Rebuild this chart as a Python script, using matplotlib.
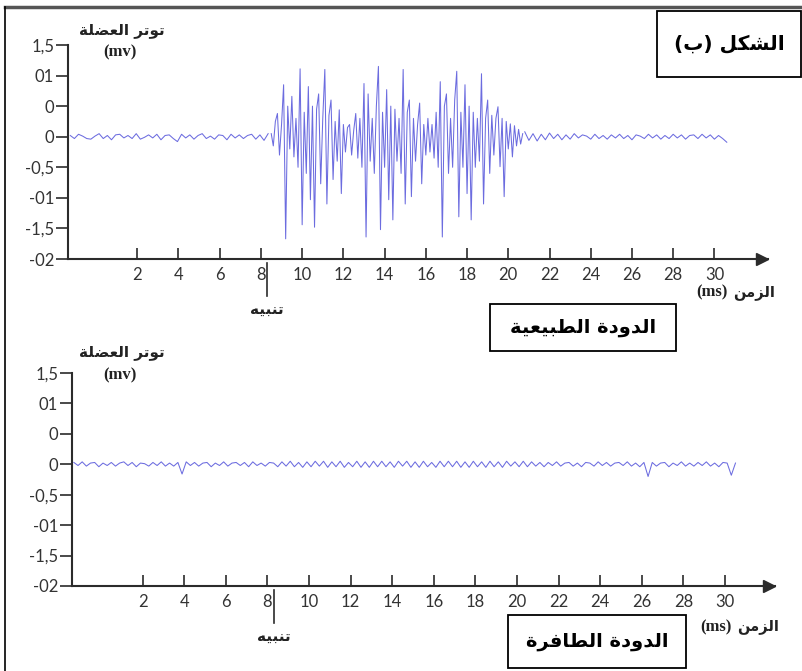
import matplotlib
matplotlib.use("Agg")
import matplotlib.pyplot as plt
import numpy as np
from matplotlib.patches import Rectangle
from matplotlib.lines import Line2D

# ---- data (mV against ms) ----
# normal worm: resting noise before the stimulus, burst, resting noise after
normal_pre_start, normal_pre_step = -1.25, 0.2
normal_pre = [0.02, -0.03, 0.04, 0.01, -0.03, -0.04, 0.01, 0.05, -0.03, 0.02,
              -0.05, 0.03, 0.04, -0.02, 0.02, -0.03, 0.05, -0.04, -0.01, 0.03,
              -0.02, 0.04, -0.05, 0.02, 0.03, -0.03, -0.08, 0.04, -0.02, 0.03,
              -0.04, 0.02, 0.05, -0.03, 0.01, -0.04, 0.03, 0.02, -0.05, 0.04,
              -0.02, 0.03, -0.03, 0.02, 0.04, -0.04, 0.03, -0.06, 0.05]

burst_start, burst_step = 8.5, 0.1
burst = [0.05, -0.15, 0.25, 0.38, -0.3, 0.2, 0.85, -1.67, 0.5, -0.2,
         0.66, -0.33, 0.3, -0.5, 1.11, -1.44, 0.4, -0.6, 0.82, -1.03,
         0.5, -1.48, 0.45, 0.7, -0.77, 0.3, 1.1, -1.1, 0.35, 0.6,
         -0.7, 0.25, -0.4, 0.44, -0.93, 0.2, -0.25, 0.15, 0.2, -0.3,
         0.1, 0.38, -0.35, 0.3, -0.5, 0.87, -1.64, 0.7, -0.4, 0.3,
         -0.6, 0.5, 1.15, -1.52, 0.4, -0.5, 0.77, -1.03, 0.5, -1.36,
         0.45, -0.4, 0.3, -0.6, 1.1, -1.1, 0.4, 0.6, -0.98, 0.3,
         -0.4, 0.2, 0.55, -0.77, 0.2, -0.3, 0.3, -0.25, 0.2, -0.35,
         0.4, -0.5, 0.9, -1.64, 0.5, 0.7, -0.6, 0.3, -0.5, 0.6,
         1.07, -1.31, 0.4, -0.5, 0.85, -0.93, 0.5, -1.36, 0.4, -0.5,
         0.3, -0.4, 1.03, -1.1, 0.3, 0.6, -0.6, 0.35, -0.3, 0.3,
         0.49, -0.49, 0.3, -0.98, 0.25, -0.2, 0.21, -0.33, 0.18, -0.15,
         0.12, -0.12, 0.05]

normal_post_start, normal_post_step = 20.8, 0.2
normal_post = [0.08, -0.06, 0.05, -0.07, 0.04, -0.05, 0.06, -0.03, 0.04, -0.05,
               0.03, -0.04, 0.05, -0.02, 0.03, 0.01, -0.04, 0.04, -0.03, 0.02,
               -0.04, 0.03, -0.02, 0.04, -0.03, 0.02, -0.05, 0.03, 0.01, -0.03,
               0.04, -0.02, 0.03, -0.04, 0.02, -0.03, 0.04, -0.02, 0.03, -0.04,
               0.02, 0.03, -0.03, 0.04, -0.02, 0.03, -0.04, 0.02, -0.03, -0.09]

# mutant worm: only resting noise
mutant_start, mutant_step = -1.3, 0.2
mutant = [0.03, -0.02, 0.04, -0.03, 0.02, 0.03, -0.04, 0.02, -0.02, 0.03,
          -0.03, 0.02, 0.04, -0.02, 0.03, -0.04, 0.02, 0.01, -0.03, 0.03,
          -0.02, 0.04, -0.03, 0.02, -0.03, 0.03, -0.16, 0.04, -0.02, 0.03,
          -0.03, 0.02, 0.03, -0.04, 0.02, -0.02, 0.04, -0.03, 0.02, 0.03,
          -0.02, 0.03, -0.04, 0.04, -0.02, 0.02, -0.03, 0.03, 0.02, -0.04,
          0.04, -0.03, 0.05, -0.04, 0.03, -0.05, 0.04, -0.04, 0.05, -0.03,
          0.05, -0.05, 0.04, -0.04, 0.05, -0.05, 0.03, -0.04, 0.05, -0.05,
          0.04, -0.05, 0.05, -0.04, 0.05, -0.04, 0.04, -0.05, 0.05, -0.03,
          0.05, -0.05, 0.04, -0.05, 0.05, -0.04, 0.03, -0.05, 0.05, -0.04,
          0.05, -0.04, 0.05, -0.05, 0.04, -0.05, 0.05, -0.04, 0.04, -0.05,
          0.05, -0.04, 0.04, -0.05, 0.05, -0.03, 0.04, -0.04, 0.05, -0.04,
          0.04, -0.03, 0.03, -0.04, 0.03, -0.02, 0.04, -0.03, 0.02, 0.03,
          -0.03, 0.02, -0.04, 0.03, 0.02, -0.03, 0.04, -0.02, 0.03, -0.03,
          0.02, 0.03, -0.02, 0.04, -0.03, 0.02, -0.04, 0.03, -0.20, 0.03,
          -0.03, 0.02, 0.03, -0.04, 0.02, -0.02, 0.04, -0.03, 0.02, -0.03,
          0.03, -0.02, 0.04, -0.03, 0.02, -0.04, 0.03, 0.02, -0.18, 0.02]

stim_time = 8.3
xtick_vals = [2, 4, 6, 8, 10, 12, 14, 16, 18, 20, 22, 24, 26, 28, 30]
ytick_vals = [1.5, 1, 0.5, 0, -0.5, -1, -1.5, -2]
ytick_labels = ["1,5", "01", "0", "0", "-0,5", "-01", "-1,5", "-02"]

# ---- arabic shaping (matplotlib has no text shaping) ----
FORMS = {  # isolated, final, initial, medial
    "\u0627": ("\ufe8d", "\ufe8e", None, None),
    "\u0628": ("\ufe8f", "\ufe90", "\ufe91", "\ufe92"),
    "\u0629": ("\ufe93", "\ufe94", None, None),
    "\u062a": ("\ufe95", "\ufe96", "\ufe97", "\ufe98"),
    "\u062f": ("\ufea9", "\ufeaa", None, None),
    "\u0631": ("\ufead", "\ufeae", None, None),
    "\u0632": ("\ufeaf", "\ufeb0", None, None),
    "\u0634": ("\ufeb5", "\ufeb6", "\ufeb7", "\ufeb8"),
    "\u0636": ("\ufebd", "\ufebe", "\ufebf", "\ufec0"),
    "\u0637": ("\ufec1", "\ufec2", "\ufec3", "\ufec4"),
    "\u0639": ("\ufec9", "\ufeca", "\ufecb", "\ufecc"),
    "\u0641": ("\ufed1", "\ufed2", "\ufed3", "\ufed4"),
    "\u0643": ("\ufed9", "\ufeda", "\ufedb", "\ufedc"),
    "\u0644": ("\ufedd", "\ufede", "\ufedf", "\ufee0"),
    "\u0645": ("\ufee1", "\ufee2", "\ufee3", "\ufee4"),
    "\u0646": ("\ufee5", "\ufee6", "\ufee7", "\ufee8"),
    "\u0647": ("\ufee9", "\ufeea", "\ufeeb", "\ufeec"),
    "\u0648": ("\ufeed", "\ufeee", None, None),
    "\u064a": ("\ufef1", "\ufef2", "\ufef3", "\ufef4"),
}


def ar(s):
    out = []
    for i, c in enumerate(s):
        if c not in FORMS:
            out.append(c)
            continue
        f = FORMS[c]
        prev = s[i - 1] if i > 0 else None
        nxt = s[i + 1] if i + 1 < len(s) else None
        jp = prev in FORMS and FORMS[prev][2] is not None
        jn = f[2] is not None and nxt in FORMS
        if jp and jn:
            out.append(f[3])
        elif jp:
            out.append(f[1])
        elif jn:
            out.append(f[2])
        else:
            out.append(f[0])
    vis = "".join(reversed(out))
    return vis.translate(str.maketrans("()", ")("))


AR_FONT = "DejaVu Sans"
NUM_FONT = "Lato"
SERIF = "Liberation Serif"
axc = "#2b2b2b"
sigc = "#5c5cdc"

W, H = 803, 671
fig = plt.figure(figsize=(W / 100, H / 100), dpi=100)


def fx(px):
    return px / W


def fy(py):
    return 1 - py / H


def series(start, step, vals):
    return start + step * np.arange(len(vals)), np.array(vals)


def setup(ax, xlim):
    ax.set_xlim(*xlim)
    ax.set_ylim(-2, 1.5)
    for s in ["top", "right"]:
        ax.spines[s].set_visible(False)
    for s in ["left", "bottom"]:
        ax.spines[s].set_color(axc)
        ax.spines[s].set_linewidth(1.5)
    ax.set_xticks(xtick_vals, [str(v) for v in xtick_vals])
    ax.set_yticks(ytick_vals, ytick_labels)
    ax.tick_params(axis="x", direction="in", length=8, width=1.2, color=axc,
                   pad=6, labelsize=12, labelcolor="#333333")
    ax.tick_params(axis="y", direction="out", length=9, width=1.2, color=axc,
                   pad=1, labelsize=12, labelcolor="#333333")
    for lab in ax.get_xticklabels() + ax.get_yticklabels():
        lab.set_fontfamily(NUM_FONT)
    ax.patch.set_alpha(0)
    # arrow head on the time axis
    ax.plot([0.991], [0], marker=">", ms=9, color=axc, transform=ax.transAxes,
            clip_on=False)
    # stimulus marker
    ax.plot([stim_time, stim_time], [-2.07, -2.6], color=axc, lw=1.2,
            clip_on=False)
    ax.text(stim_time, -2.84, ar("تنبيه"), ha="center", va="center",
            fontsize=11, fontweight="bold", fontfamily=AR_FONT,
            color="#222222")


# ---- top panel: normal worm ----
ax1 = fig.add_axes([fx(68), fy(259), 700 / W, 214 / H])
setup(ax1, (-1.36, 32.6))
for st, sp, v in [(normal_pre_start, normal_pre_step, normal_pre),
                  (burst_start, burst_step, burst),
                  (normal_post_start, normal_post_step, normal_post)]:
    t, y = series(st, sp, v)
    ax1.plot(t, y, color=sigc, lw=0.75, alpha=0.9)

# ---- bottom panel: mutant worm ----
ax2 = fig.add_axes([fx(72), fy(586), 703 / W, 213 / H])
setup(ax2, (-1.39, 32.4))
t, y = series(mutant_start, mutant_step, mutant)
ax2.plot(t, y, color=sigc, lw=0.75, alpha=0.9)

# ---- labels ----
for ylab, ymv in [(30, 52), (352, 375)]:
    fig.text(fx(122), fy(ylab), ar("توتر العضلة"), ha="center", va="center",
             fontsize=11, fontweight="bold", fontfamily=AR_FONT, color="#222222")
    fig.text(fx(120), fy(ymv), "(mv)", ha="center", va="center", fontsize=12,
             fontweight="bold", fontfamily=SERIF, color="#222222")
for yt, xms, xar in [(292, 712, 754), (627, 716, 758)]:
    fig.text(fx(xms), fy(yt), "(ms)", ha="center", va="center", fontsize=12,
             fontweight="bold", fontfamily=SERIF, color="#222222")
    fig.text(fx(xar), fy(yt), ar("الزمن"), ha="center", va="center",
             fontsize=10.5, fontweight="bold", fontfamily=AR_FONT,
             color="#222222")

# ---- framed titles ----
boxes = [(657, 11, 801, 77, "الشكل (ب)", 14.5),
         (490, 304, 676, 351, "الدودة الطبيعية", 14),
         (508, 615, 686, 668, "الدودة الطافرة", 14)]
for x0, y0, x1, y1, txt, fs in boxes:
    fig.add_artist(Rectangle((fx(x0), fy(y1)), (x1 - x0) / W, (y1 - y0) / H,
                             transform=fig.transFigure, fill=False,
                             edgecolor="black", lw=1.3))
    fig.text(fx((x0 + x1) / 2), fy((y0 + y1) / 2), ar(txt), ha="center",
             va="center", fontsize=fs, fontweight="bold", fontfamily=AR_FONT,
             color="black")

# outer frame of the scanned figure
fig.add_artist(Line2D([fx(5), fx(803)], [fy(7), fy(7)], color="#555555",
                      lw=2.5, transform=fig.transFigure))
fig.add_artist(Line2D([fx(5), fx(5)], [fy(7), fy(671)], color="black",
                      lw=1.2, transform=fig.transFigure))

fig.savefig("out.png", dpi=100)
